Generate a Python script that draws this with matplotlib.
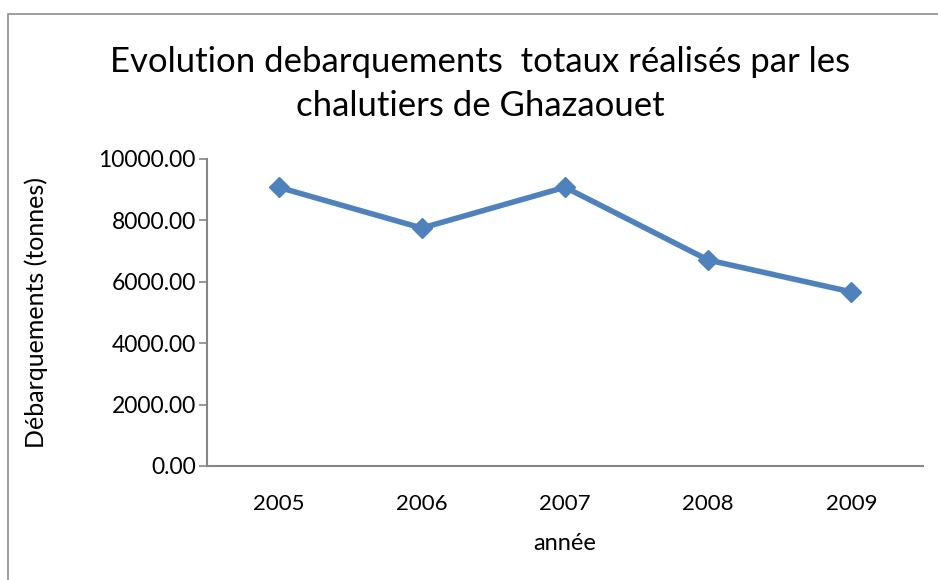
import matplotlib
matplotlib.use("Agg")
import matplotlib.pyplot as plt
from matplotlib.patches import Rectangle

years = ["2005", "2006", "2007", "2008", "2009"]
debarquements = [9080, 7750, 9080, 6710, 5670]
yticks = [0, 2000, 4000, 6000, 8000, 10000]

plt.rcParams['font.family'] = ['Lato', 'DejaVu Sans']

fig = plt.figure(figsize=(9.38, 5.8), dpi=100)
W, H = 938, 580

# outer chart border
fig.patches.append(Rectangle((8 / W, -0.01), 1.0, (580 - 14) / H + 0.01,
                             transform=fig.transFigure, fill=False,
                             edgecolor="#8c8c8c", linewidth=1.2))

ax = fig.add_axes([207 / W, (H - 466) / H, (923 - 207) / W, (466 - 159) / H])
x = list(range(len(years)))
ax.plot(x, debarquements, color="#4f81bd", linewidth=4, marker="D",
        markersize=10, markeredgecolor="#4f81bd", markerfacecolor="#4f81bd")

ax.set_xlim(-0.5, len(years) - 0.5)
ax.set_ylim(0, 10000)
ax.set_yticks(yticks)
ax.set_yticklabels([f"{v:.2f}" for v in yticks], fontsize=16.5)
ax.set_xticks(x)
ax.set_xticklabels(years, fontsize=16)

for s in ["top", "right"]:
    ax.spines[s].set_visible(False)
for s in ["left", "bottom"]:
    ax.spines[s].set_color("#868686")
    ax.spines[s].set_linewidth(1.5)
ax.tick_params(axis="y", length=6, color="#868686", width=1.2, pad=2)
ax.tick_params(axis="x", length=0, pad=20)

ax.set_xlabel("année", fontsize=17, labelpad=14)
fig.text(36 / W, 1 - 313 / H, "Débarquements (tonnes)", rotation=90,
         ha="center", va="center", fontsize=18)

fig.text(480 / W, 1 - 62 / H, "Evolution debarquements  totaux réalisés par les",
         ha="center", va="center", fontsize=25)
fig.text(480 / W, 1 - 106 / H, "chalutiers de Ghazaouet",
         ha="center", va="center", fontsize=25)

fig.savefig("out.png", dpi=100)
